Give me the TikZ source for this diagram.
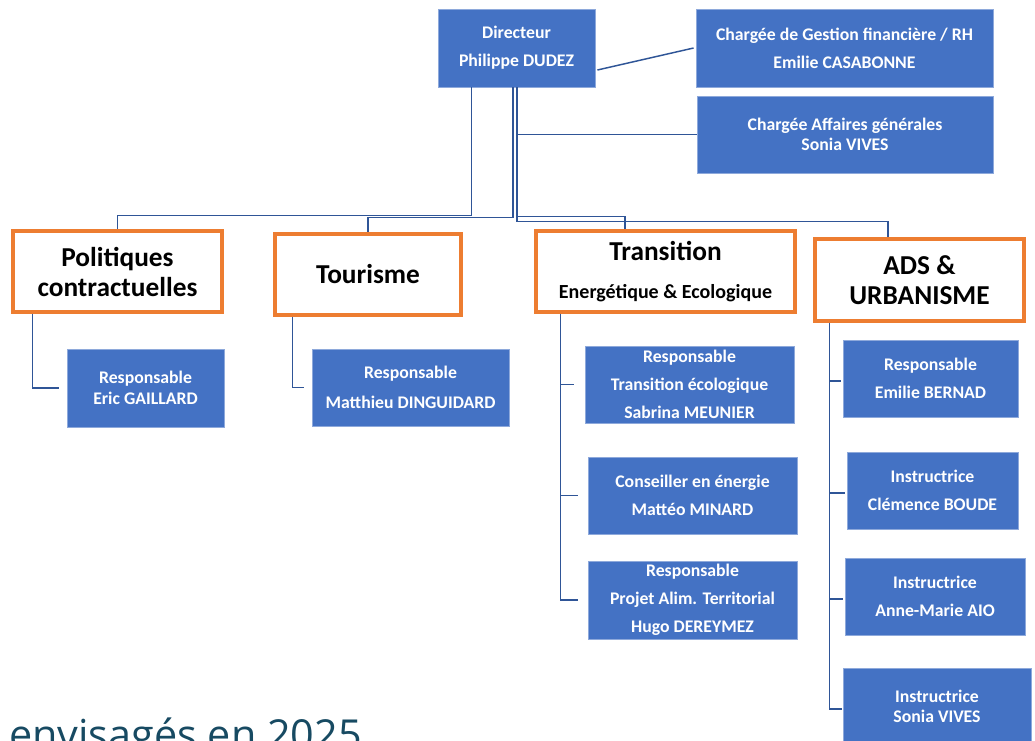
\documentclass[tikz,border=0pt]{standalone}
\usepackage{fontspec}
\setmainfont{Carlito}
\newfontfamily\bottomfont{Open Sans}
\usetikzlibrary{calc}
\definecolor{boxblue}{HTML}{4472C4}
\definecolor{boxedge}{HTML}{8EA9DB}
\definecolor{catorange}{HTML}{ED7D31}
\definecolor{linkblue}{HTML}{2F5597}
\definecolor{titleteal}{HTML}{174A62}
\tikzset{
  bluebox/.style={draw=boxedge, line width=0.6pt, fill=boxblue, text=white,
    font=\fontsize{13.3}{21}\selectfont\bfseries, align=center, inner sep=0pt},
  catbox/.style={draw=catorange, line width=2.3pt, fill=white, text=black,
    font=\fontsize{20.5}{22.5}\selectfont\bfseries, align=center, inner sep=0pt},
  link/.style={draw=linkblue, line width=1.1pt},
}
\begin{document}
\begin{tikzpicture}[x=0.75pt, y=-0.75pt]
\path[use as bounding box] (0,0) rectangle (1035,740);
\clip (0,0) rectangle (1035,740);
\fill[white] (0,0) rectangle (1035,740);

% top level
\node[bluebox, minimum width=157*0.75pt, minimum height=78*0.75pt] (dir) at (516.5,48) {Directeur\\Philippe DUDEZ};
\node[bluebox, minimum width=297*0.75pt, minimum height=78*0.75pt] (cas) at (844.5,48) {Chargée de Gestion financière / RH\\Emilie CASABONNE};
\node[bluebox, minimum width=296*0.75pt, minimum height=77*0.75pt, font=\fontsize{13.3}{15}\selectfont\bfseries] (aff) at (845,134.5) {Chargée Affaires générales\\Sonia VIVES};

% categories
\node[catbox, minimum width=209*0.75pt, minimum height=81*0.75pt] (pol) at (117.5,271.5) {Politiques\\contractuelles};
\node[catbox, minimum width=186*0.75pt, minimum height=81*0.75pt] (tou) at (368,274.5) {Tourisme};
\node[catbox, minimum width=259*0.75pt, minimum height=81*0.75pt, font=\fontsize{15}{29}\selectfont\bfseries] (tra) at (665.5,271.5) {{\fontsize{20.5}{22.5}\selectfont Transition}\\Energétique \& Ecologique};
\node[catbox, minimum width=209*0.75pt, minimum height=82*0.75pt, font=\fontsize{20.5}{22}\selectfont\bfseries] (ads) at (919.5,280) {ADS \&\\URBANISME};

% staff
\node[bluebox, minimum width=157*0.75pt, minimum height=78*0.75pt, font=\fontsize{13.3}{15.75}\selectfont\bfseries] (eric) at (145.5,388) {Responsable\\Eric GAILLARD};
\node[bluebox, minimum width=197*0.75pt, minimum height=77*0.75pt, font=\fontsize{13.3}{22.5}\selectfont\bfseries] (mat) at (410.5,387.5) {Responsable\\Matthieu DINGUIDARD};
\node[bluebox, minimum width=209*0.75pt, minimum height=77*0.75pt] (sab) at (689.5,384.5) {Responsable\\Transition écologique\\Sabrina MEUNIER};
\node[bluebox, minimum width=209*0.75pt, minimum height=77*0.75pt] (min) at (692.5,495.5) {Conseiller en énergie\\Mattéo MINARD};
\node[bluebox, minimum width=209*0.75pt, minimum height=78*0.75pt] (prj) at (692.5,600) {Responsable\\Projet Alim. Territorial\\Hugo DEREYMEZ};
\node[bluebox, minimum width=175*0.75pt, minimum height=77*0.75pt] (ber) at (930.5,378.5) {Responsable\\Emilie BERNAD};
\node[bluebox, minimum width=171*0.75pt, minimum height=77*0.75pt] (cle) at (932.5,490.5) {Instructrice\\Clémence BOUDE};
\node[bluebox, minimum width=180*0.75pt, minimum height=77*0.75pt] (ann) at (935,596.5) {Instructrice\\Anne-Marie AIO};
\node[bluebox, minimum width=188*0.75pt, minimum height=77*0.75pt, font=\fontsize{13.3}{15}\selectfont\bfseries] (son) at (937,706.5) {Instructrice\\Sonia VIVES};

% connectors from director
\draw[link] ($(dir.east)+(2,22)$) -- ($(cas.west)+(-2,0)$);
\draw[link] ($(dir.south)+(0.5,0)$) |- (aff.west);
\draw[link] ($(dir.south)+(-45,0)$) -- ($(dir.south)+(-45,128)$) -| (pol.north);
\draw[link] ($(dir.south)+(-3.5,0)$) -- ($(dir.south)+(-3.5,130)$) -| (tou.north);
\draw[link] ($(dir.south)+(0.5,0)$) -- ($(dir.south)+(0.5,129)$) -| ($(tra.north)+(-40.5,0)$);
\draw[link] ($(dir.south)+(0.5,0)$) -- ($(dir.south)+(0.5,134)$) -| ($(ads.north)+(-31.5,0)$);

% category children
\draw[link] ($(pol.south west)+(21,0)$) |- ($(eric.west)+(-8,0)$);
\draw[link] ($(tou.south west)+(19,0)$) |- ($(mat.west)+(-8,0)$);

\coordinate (tt) at ($(tra.south west)+(26,0)$);
\draw[link] (tt) |- ($(prj.west)+(-10,0)$);
\draw[link] (tt |- sab.west) -- ($(sab.west)+(-11,0)$);
\draw[link] (tt |- min.west) -- ($(min.west)+(-10,0)$);

\coordinate (at) at ($(ads.south west)+(16,0)$);
\draw[link] (at) |- ($(son.west)+(-1,2.5)$);
\draw[link] ($(at |- ber.west)+(0,2.5)$) -- ($(ber.west)+(-2,2.5)$);
\draw[link] ($(at |- cle.west)+(0,2.5)$) -- ($(cle.west)+(-2,2.5)$);
\draw[link] ($(at |- ann.west)+(0,2.5)$) -- ($(ann.west)+(-2,2.5)$);

% partially visible title
\node[anchor=base west, inner sep=0pt, text=titleteal, font=\bottomfont\fontsize{31}{36}\selectfont] (ttl) at (9,749) {envisagés en 2025};
\end{tikzpicture}
\end{document}
